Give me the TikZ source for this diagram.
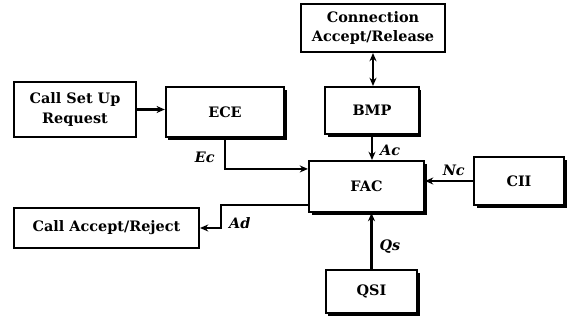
\documentclass[tikz,border=0pt]{standalone}
\usepackage{amsmath}
\usepackage{fontspec}
\setmainfont{DejaVu Serif}
\usepackage{tikz}
\usetikzlibrary{arrows.meta,shadows}
\tikzstyle{io}=[draw, line width=1.8pt, fill=white, inner sep=0pt, align=center, font=\fontsize{12.3}{17}\selectfont\bfseries]
\tikzstyle{block}=[io, drop shadow={fill=black, opacity=1, shadow xshift=2.2pt, shadow yshift=-2.2pt}]
\tikzstyle{sig}=[font=\fontsize{12.3}{15}\selectfont\bfseries\itshape, inner sep=1pt]
\tikzstyle{flow}=[line width=1.8pt, -{Stealth[length=7pt,width=6pt]}]

\begin{document}
\begin{tikzpicture}[x=0.03cm, y=-0.03cm]
		   \useasboundingbox (0,0) rectangle (568,320);
		   \begin{scope}
			   \node (conn) at (373,28) [io, minimum width=4.32cm, minimum height=1.44cm] {Connection\\Accept/Release};
			   \node (csu) at (75,109.5) [io, minimum width=3.66cm, minimum height=1.65cm] {Call Set Up\\Request};
			   \node (ece) at (225,112) [block, minimum width=3.55cm, minimum height=1.5cm] {ECE};
			   \node (bmp) at (372,110.5) [block, minimum width=2.8cm, minimum height=1.41cm] {BMP};
			   \node (fac) at (366.5,186.5) [block, minimum width=3.45cm, minimum height=1.53cm] {FAC};
			   \node (cii) at (519,181) [block, minimum width=2.7cm, minimum height=1.44cm] {CII};
			   \node (car) at (106.5,228) [io, minimum width=5.55cm, minimum height=1.2cm] {Call Accept/Reject};
			   \node (qsi) at (371.5,291.5) [block, minimum width=2.75cm, minimum height=1.29cm] {QSI};
		   \end{scope}
		   \begin{scope}
			   \path [flow, {Stealth[length=7pt,width=6pt]}-{Stealth[length=7pt,width=6pt]}] (conn.south) edge (conn.south |- bmp.north);
			   \path [flow] (csu.east) edge (csu.east -| ece.west);
			   \path [flow] (bmp.south) edge node[sig, right=5pt, pos=0.6] (ac) {Ac} (bmp.south |- fac.north);
			   \path [flow] (cii.west) edge node[sig, above=3pt, pos=0.4] (nc) {Nc} (cii.west -| fac.east);
			   \path [flow] (qsi.north) edge node[sig, right=5pt, pos=0.4] (qs) {Qs} (qsi.north |- fac.south);
			   \draw [flow] (ece.south) |- node[sig, left=7pt, pos=0.32] (ec) {Ec} ([yshift=-0.27cm]fac.north west);
			   \draw [flow] ([yshift=0.24cm]fac.south west) -| node[sig, right=5pt, pos=0.9] (ad) {Ad} ([xshift=0.63cm]car.east) -- (car.east);
		   \end{scope}
	   \end{tikzpicture}
\end{document}
